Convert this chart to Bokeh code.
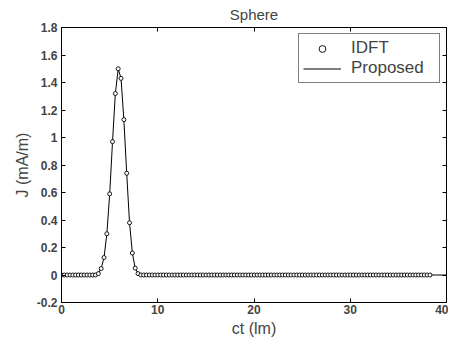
import numpy as np
from bokeh.plotting import figure
from bokeh.models import LinearAxis, FixedTicker, Range1d, Legend, LegendItem, ColumnDataSource
from bokeh.embed import file_html
from bokeh.resources import INLINE

# sampling grid (ct, lm)
ct = list(np.round(np.arange(131) * 0.2945, 4))
# IDFT samples: zero except the pulse
idft_j = [0.0] * 131
pulse_start = 13
pulse_vals = [0.01, 0.047, 0.127, 0.30, 0.59, 0.97, 1.32, 1.50, 1.43, 1.13, 0.74, 0.38, 0.16, 0.05, 0.01]
for k, v in enumerate(pulse_vals):
    idft_j[pulse_start + k] = v

# proposed curve
prop_ct = ct + [40.0]
prop_j = idft_j + [0.0]

x_ticks = [0, 10, 20, 30, 40]
y_ticks = [-0.2, 0, 0.2, 0.4, 0.6, 0.8, 1.0, 1.2, 1.4, 1.6, 1.8]
y_labels = ["-0.2", "0", "0.2", "0.4", "0.6", "0.8", "1", "1.2", "1.4", "1.6", "1.8"]

FONT = "Liberation Sans"

p = figure(width=448, height=340, output_backend="svg", toolbar_location=None,
           x_range=Range1d(0, 40), y_range=Range1d(-0.2, 1.8),
           min_border_left=61, min_border_right=2, min_border_top=27, min_border_bottom=38,
           x_axis_label="ct (lm)", y_axis_label="J (mA/m)", title="Sphere")
p.title.align = "center"
p.title.vertical_align = "top"
p.title.text_font = FONT
p.title.text_font_size = "15px"
p.title.text_font_style = "normal"
p.title.offset = 0
p.title.standoff = 6
p.xgrid.visible = False
p.ygrid.visible = False
p.outline_line_color = "black"
p.outline_line_width = 1

for ax in [p.xaxis[0], p.yaxis[0]]:
    ax.major_tick_in = 4
    ax.major_tick_out = 0
    ax.minor_tick_in = 0
    ax.minor_tick_out = 0
    ax.major_label_text_font = FONT
    ax.major_label_text_font_style = "bold"
    ax.major_label_text_font_size = "12px"
    ax.axis_label_text_font = FONT
    ax.axis_label_text_font_style = "normal"
    ax.axis_label_text_font_size = "16px"
    ax.major_label_standoff = 4
    ax.axis_label_standoff = 3
    ax.axis_line_color = "black"

p.xaxis[0].major_label_standoff = 2
p.xaxis[0].ticker = FixedTicker(ticks=x_ticks)
p.yaxis[0].ticker = FixedTicker(ticks=y_ticks)
p.yaxis[0].major_label_overrides = {t: l for t, l in zip(y_ticks, y_labels)}

top = LinearAxis(ticker=FixedTicker(ticks=x_ticks),
                 major_label_overrides={t: "" for t in x_ticks},
                 major_tick_in=4, major_tick_out=0, minor_tick_in=0, minor_tick_out=0,
                 major_label_standoff=0)
right = LinearAxis(ticker=FixedTicker(ticks=y_ticks),
                   major_label_overrides={t: "" for t in y_ticks},
                   major_tick_in=4, major_tick_out=0, minor_tick_in=0, minor_tick_out=0,
                   major_label_standoff=0)
p.add_layout(top, "above")
p.add_layout(right, "right")

src_line = ColumnDataSource(dict(x=prop_ct, y=prop_j))
src_pts = ColumnDataSource(dict(x=ct, y=idft_j))
r_line = p.line("x", "y", source=src_line, line_color="black", line_width=1)
r_pts = p.scatter("x", "y", source=src_pts, marker="circle", size=4,
                  line_color="black", fill_color="white", line_width=0.9)

legend = Legend(items=[LegendItem(label="IDFT", renderers=[r_pts]),
                       LegendItem(label="Proposed", renderers=[r_line])],
                location="top_right")
legend.label_text_font = FONT
legend.label_text_font_size = "17px"
legend.border_line_color = "black"
legend.border_line_width = 1
legend.margin = 6
legend.padding = 4
legend.spacing = 0
legend.glyph_width = 38
legend.glyph_height = 17
legend.label_height = 17
legend.label_width = 84
legend.label_standoff = 10
legend.label_text_line_height = 1.0
p.add_layout(legend)

open("out.html", "w").write(file_html(p, INLINE))
